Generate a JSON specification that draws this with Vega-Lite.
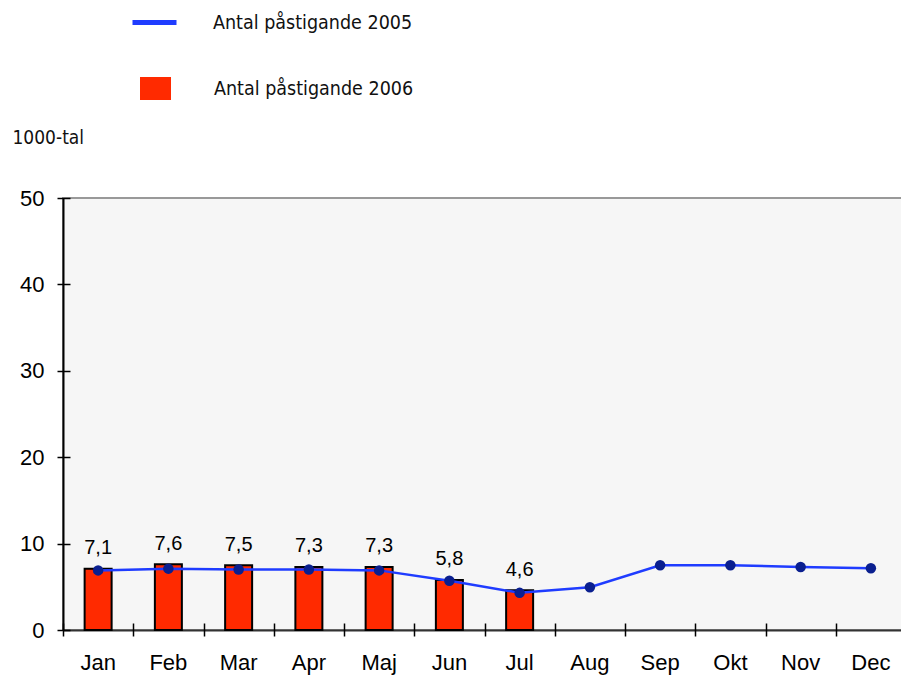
{
  "$schema": "https://vega.github.io/schema/vega-lite/v6.json",
  "width": 843,
  "height": 432,
  "autosize": {"type": "none"},
  "padding": {"left": 63, "top": 198, "right": -5, "bottom": 45},
  "datasets": {
    "d2006": [
      {"month": "Jan", "value": 7.1},
      {"month": "Feb", "value": 7.6},
      {"month": "Mar", "value": 7.5},
      {"month": "Apr", "value": 7.3},
      {"month": "Maj", "value": 7.3},
      {"month": "Jun", "value": 5.8},
      {"month": "Jul", "value": 4.6}
    ],
    "d2005": [
      {"month": "Jan", "value": 6.9},
      {"month": "Feb", "value": 7.1},
      {"month": "Mar", "value": 7.0},
      {"month": "Apr", "value": 7.0},
      {"month": "Maj", "value": 6.9},
      {"month": "Jun", "value": 5.7},
      {"month": "Jul", "value": 4.3},
      {"month": "Aug", "value": 4.95},
      {"month": "Sep", "value": 7.5},
      {"month": "Okt", "value": 7.5},
      {"month": "Nov", "value": 7.3},
      {"month": "Dec", "value": 7.15}
    ]
  },
  "layer": [
    {
      "data": {"name": "d2006"},
      "mark": {"type": "bar", "size": 27, "stroke": "#000000", "strokeWidth": 2},
      "encoding": {
        "x": {
          "field": "month", "type": "nominal", "sort": null,
          "scale": {"domain": ["Jan","Feb","Mar","Apr","Maj","Jun","Jul","Aug","Sep","Okt","Nov","Dec"], "paddingInner": 0, "paddingOuter": 0},
          "axis": {"orient": "bottom", "title": null, "ticks": false, "domain": true, "domainColor": "#333333", "domainWidth": 2, "labelAngle": 0, "labelFont": "Liberation Sans", "labelFontSize": 22, "labelColor": "#000000", "labelPadding": 22}
        },
        "y": {
          "field": "value", "type": "quantitative",
          "scale": {"domain": [0, 50], "nice": false},
          "axis": {"orient": "left", "values": [0,10,20,30,40,50], "ticks": false, "grid": false, "domain": true, "domainColor": "#000000", "domainWidth": 2, "labelFont": "Liberation Sans", "labelFontSize": 22, "labelColor": "#000000", "labelPadding": 19,
            "title": "1000-tal", "titleAngle": 0, "titleAlign": "left", "titleBaseline": "middle", "titleX": -51, "titleY": -61, "titleFont": "DejaVu Sans Condensed", "titleFontSize": 19, "titleFontWeight": "normal", "titleColor": "#111111"}
        },
        "fill": {
          "datum": "Antal påstigande 2006",
          "scale": {"range": ["#ff2a00"]},
          "legend": {"orient": "none", "legendX": 77, "legendY": -125, "title": null, "padding": 0, "symbolType": "M-1,-0.742H1V0.742H-1Z", "symbolSize": 961, "symbolStrokeWidth": 0, "labelOffset": 43, "labelFont": "DejaVu Sans Condensed", "labelFontSize": 19.5, "labelColor": "#111111", "labelLimit": 400}
        }
      }
    },
    {
      "data": {"name": "d2006"},
      "mark": {"type": "text", "baseline": "alphabetic", "dy": -14.5, "font": "Liberation Sans", "fontSize": 20, "color": "#000000"},
      "encoding": {
        "x": {"field": "month", "type": "nominal", "sort": null, "axis": null},
        "y": {"field": "value", "type": "quantitative", "axis": null},
        "text": {"field": "value", "type": "quantitative", "format": ".1f"}
      }
    },
    {
      "data": {"name": "d2005"},
      "mark": {"type": "line", "strokeWidth": 2.5},
      "encoding": {
        "x": {
          "field": "month", "type": "nominal", "sort": null,
          "axis": {"orient": "bottom", "title": null, "labels": false, "domain": false, "ticks": true, "tickBand": "extent", "tickSize": 13, "tickWidth": 1.5, "tickColor": "#000000", "offset": -7}
        },
        "y": {
          "field": "value", "type": "quantitative",
          "axis": {"orient": "left", "title": null, "labels": false, "domain": false, "grid": false, "ticks": true, "values": [0,10,20,30,40,50], "tickSize": 13, "tickWidth": 1.5, "tickColor": "#000000", "offset": -7}
        },
        "stroke": {
          "datum": "Antal påstigande 2005",
          "scale": {"range": ["#1f3cff"]},
          "legend": {"orient": "none", "legendX": 67, "legendY": -200, "title": null, "padding": 0, "symbolType": "stroke", "symbolSize": 1936, "symbolStrokeWidth": 5, "labelOffset": 34, "labelFont": "DejaVu Sans Condensed", "labelFontSize": 19.5, "labelColor": "#111111", "labelLimit": 400}
        }
      }
    },
    {
      "data": {"name": "d2005"},
      "mark": {"type": "point", "filled": true, "color": "#0a1f8f", "size": 110, "opacity": 1},
      "encoding": {
        "x": {"field": "month", "type": "nominal", "sort": null, "axis": null},
        "y": {"field": "value", "type": "quantitative", "axis": null}
      }
    }
  ],
  "resolve": {"axis": {"x": "independent", "y": "independent"}},
  "config": {
    "locale": {"number": {"decimal": ",", "thousands": " ", "grouping": [3], "currency": ["", " kr"]}},
    "view": {"fill": "#f6f6f6", "stroke": "#999999", "strokeWidth": 2},
    "background": "#ffffff"
  }
}
